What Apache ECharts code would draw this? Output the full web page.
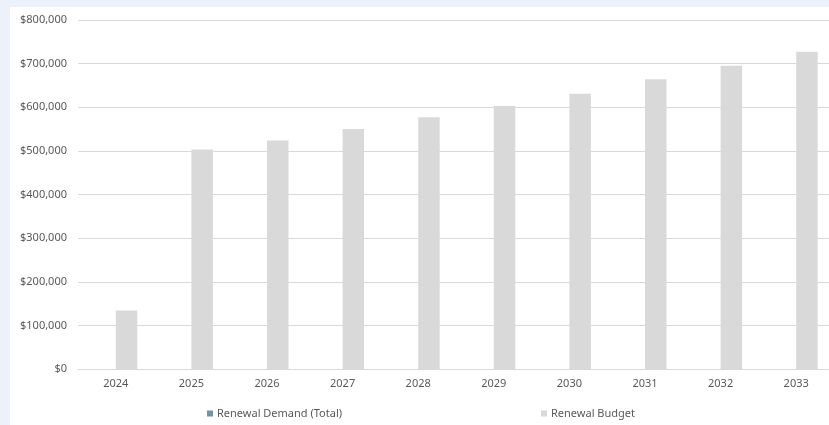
<!DOCTYPE html>
<html>
<head>
<meta charset="utf-8">
<script src="https://cdn.jsdelivr.net/npm/echarts@6/dist/echarts.min.js"></script>
<style>
  html, body { margin: 0; padding: 0; background: #edf2fa; overflow: hidden; }
  #frame { position: absolute; left: 10px; top: 7px; width: 819px; height: 418px; background: #ffffff; overflow: hidden; }
  #chart { width: 840px; height: 418px; }
</style>
</head>
<body>
<div id="frame"><div id="chart"></div></div>
<script>
// Renewal demand vs budget by year
const years = ['2024', '2025', '2026', '2027', '2028', '2029', '2030', '2031', '2032', '2033'];
const renewalDemand = [0, 0, 0, 0, 0, 0, 0, 0, 0, 0];
const renewalBudget = [134000, 503000, 524000, 550000, 577000, 603000, 631000, 664000, 695000, 727000];
const yTicks = { min: 0, max: 800000, interval: 100000 };

const textColor = '#595959';
const lineColor = '#d9d9d9';
const font = 'Noto Sans';

const chart = echarts.init(document.getElementById('chart'), null, { renderer: 'canvas' });

function money(v) {
  return '$' + String(v).replace(/\B(?=(\d{3})+(?!\d))/g, ',');
}

chart.setOption({
  animation: false,
  backgroundColor: 'transparent',
  textStyle: { fontFamily: font },
  grid: { left: 68, top: 13, width: 756, height: 349, containLabel: false },
  legend: [
    {
      data: ['Renewal Demand (Total)'],
      left: 192, top: 396,
      itemWidth: 6, itemHeight: 6, itemGap: 4,
      icon: 'rect',
      textStyle: { color: textColor, fontSize: 11, fontFamily: font, padding: [0, 0, 0, -1] }
    },
    {
      data: ['Renewal Budget'],
      left: 526, top: 396,
      itemWidth: 6, itemHeight: 6, itemGap: 4,
      icon: 'rect',
      textStyle: { color: textColor, fontSize: 11, fontFamily: font, padding: [0, 0, 0, -1] }
    }
  ],
  xAxis: {
    type: 'category',
    data: years,
    axisLine: { lineStyle: { color: lineColor } },
    axisTick: { show: false },
    axisLabel: { color: textColor, fontSize: 11, fontFamily: font, margin: 9 }
  },
  yAxis: {
    type: 'value',
    min: yTicks.min, max: yTicks.max, interval: yTicks.interval,
    axisLine: { show: false },
    axisTick: { show: false },
    splitLine: { lineStyle: { color: lineColor, width: 1 } },
    axisLabel: { color: textColor, fontSize: 11, fontFamily: font, margin: 11, formatter: money }
  },
  series: [
    {
      name: 'Renewal Demand (Total)',
      type: 'bar',
      data: renewalDemand,
      barWidth: 21.5,
      barGap: '0%',
      itemStyle: { color: '#7393a5' }
    },
    {
      name: 'Renewal Budget',
      type: 'bar',
      data: renewalBudget,
      barWidth: 21.5,
      itemStyle: { color: '#d9d9d9' }
    }
  ]
});
</script>
</body>
</html>
